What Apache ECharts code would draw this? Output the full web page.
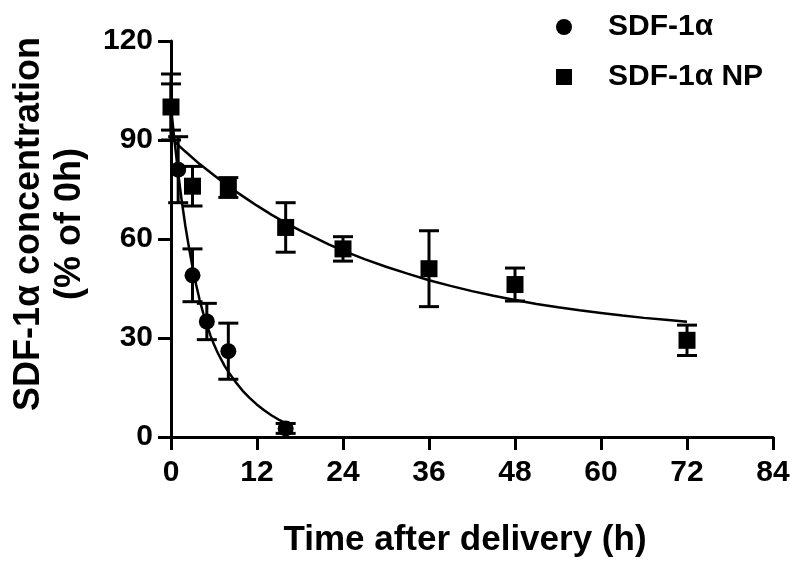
<!DOCTYPE html>
<html>
<head>
<meta charset="utf-8">
<script src="https://cdn.jsdelivr.net/npm/echarts@6/dist/echarts.min.js"></script>
<style>
html,body{margin:0;padding:0;background:#fff;}
#chart{width:800px;height:574px;}
</style>
</head>
<body>
<div id="chart"></div>
<script>
// ---- data ----
var xTicks = [0, 12, 24, 36, 48, 60, 72, 84];
var yTicks = [0, 30, 60, 90, 120];

var freeTime = [0, 1, 3, 5, 8, 16];
var freeMean = [100, 81, 49, 35, 26, 2.6];
var freeErr  = [10, 10, 8, 5.5, 8.5, 1.5];

var npTime = [0, 3, 8, 16, 24, 36, 48, 72];
var npMean = [100, 76, 75.6, 63.5, 57, 51, 46.2, 29.3];
var npErr  = [7, 6, 3, 7.5, 3.7, 11.5, 5, 4.6];

// fitted curves
var freeFitT = [0, 0.5, 1, 1.5, 2, 2.5, 3, 3.5, 4, 4.5, 5, 5.5, 6, 6.5, 7, 7.5, 8, 9, 10, 11, 12, 13, 14, 15, 16];
var freeFitY = [100, 89.5, 80, 71.5, 64, 57.5, 51.5, 46.2, 41.5, 37.5, 34, 30.8, 28, 25.6, 23.5, 21.5, 19.8, 16.7, 14, 11.8, 9.8, 8.1, 6.6, 5.3, 4.2];

var npFitT = [0, 2, 4, 6, 8, 10, 12, 14, 16, 18, 20, 22, 24, 27, 30, 33, 36, 39, 42, 45, 48, 51, 54, 57, 60, 63, 66, 69, 72];
var npFitY = [90.5, 86.5, 82.7, 79.3, 76, 73, 70.1, 67.4, 64.9, 62.6, 60.5, 58.4, 56.5, 53.9, 51.6, 49.5, 47.5, 45.8, 44.2, 42.8, 41.5, 40.3, 39.3, 38.4, 37.6, 36.8, 36.1, 35.5, 34.9];

var seriesNames = ['SDF-1\u03b1', 'SDF-1\u03b1 NP'];

function zip2(a, b) { return a.map(function (v, i) { return [v, b[i]]; }); }
function zip3(a, b, c) { return a.map(function (v, i) { return [v, b[i], c[i]]; }); }

var FONT = '"Liberation Sans", Arial, Helvetica, sans-serif';

function errRender(params, api) {
  var t = api.value(0), m = api.value(1), e = api.value(2);
  var hi = api.coord([t, m + e]);
  var lo = api.coord([t, m - e]);
  var hw = 10;
  var st = { stroke: '#000', lineWidth: 3 };
  return {
    type: 'group',
    children: [
      { type: 'line', shape: { x1: hi[0], y1: hi[1], x2: lo[0], y2: lo[1] }, style: st },
      { type: 'line', shape: { x1: hi[0] - hw, y1: hi[1], x2: hi[0] + hw, y2: hi[1] }, style: st },
      { type: 'line', shape: { x1: lo[0] - hw, y1: lo[1], x2: lo[0] + hw, y2: lo[1] }, style: st }
    ]
  };
}

var chart = echarts.init(document.getElementById('chart'), null, { renderer: 'canvas' });
chart.setOption({
  animation: false,
  backgroundColor: '#fff',
  grid: { left: 171, right: 27, top: 41, bottom: 137, containLabel: false },
  legend: {
    data: [
      { name: seriesNames[0], icon: 'circle' },
      { name: seriesNames[1], icon: 'rect' }
    ],
    orient: 'vertical',
    left: 551,
    top: 5,
    itemWidth: 16,
    itemHeight: 16,
    itemGap: 16,
    selectedMode: false,
    itemStyle: { opacity: 1 },
    textStyle: { fontFamily: FONT, fontWeight: 'bold', fontSize: 30, color: '#000', lineHeight: 34, padding: [0, 0, 0, 31] }
  },
  xAxis: {
    type: 'value',
    min: xTicks[0],
    max: xTicks[xTicks.length - 1],
    interval: 12,
    name: 'Time after delivery (h)',
    nameLocation: 'middle',
    nameGap: 86,
    nameTextStyle: { fontFamily: FONT, fontWeight: 'bold', fontSize: 35, color: '#000', padding: [0, 14, 0, 0] },
    axisLine: { show: true, onZero: false, lineStyle: { color: '#000', width: 3 } },
    axisTick: { show: true, length: 13, lineStyle: { color: '#000', width: 3 } },
    axisLabel: { fontFamily: FONT, fontWeight: 'bold', fontSize: 30, color: '#000', margin: 21 },
    splitLine: { show: false }
  },
  yAxis: {
    type: 'value',
    min: yTicks[0],
    max: yTicks[yTicks.length - 1],
    interval: 30,
    name: 'SDF-1\u03b1 concentration\n(% of 0h)',
    nameLocation: 'middle',
    nameRotate: 90,
    nameGap: 80,
    nameTextStyle: { fontFamily: FONT, fontWeight: 'bold', fontSize: 36, color: '#000', lineHeight: 41, padding: [0, 0, 0, 30] },
    axisLine: { show: true, onZero: false, lineStyle: { color: '#000', width: 3 } },
    axisTick: { show: true, length: 13, lineStyle: { color: '#000', width: 3 } },
    axisLabel: { fontFamily: FONT, fontWeight: 'bold', fontSize: 30, color: '#000', margin: 18 },
    splitLine: { show: false }
  },
  series: [
    {
      name: 'fit-free', type: 'line', data: zip2(freeFitT, freeFitY),
      smooth: false, showSymbol: false, silent: true,
      lineStyle: { color: '#000', width: 2.5 }, z: 2
    },
    {
      name: 'fit-np', type: 'line', data: zip2(npFitT, npFitY),
      smooth: false, showSymbol: false, silent: true,
      lineStyle: { color: '#000', width: 2.5 }, z: 2
    },
    {
      name: 'err-free', type: 'custom', renderItem: errRender,
      data: zip3(freeTime, freeMean, freeErr), z: 3, silent: true
    },
    {
      name: 'err-np', type: 'custom', renderItem: errRender,
      data: zip3(npTime, npMean, npErr), z: 3, silent: true
    },
    {
      name: seriesNames[0], type: 'scatter', symbol: 'circle', symbolSize: 16,
      data: zip2(freeTime, freeMean), itemStyle: { color: '#000', opacity: 1 }, z: 4
    },
    {
      name: seriesNames[1], type: 'scatter', symbol: 'rect', symbolSize: 17,
      data: zip2(npTime, npMean), itemStyle: { color: '#000', opacity: 1 }, z: 5
    }
  ]
});
</script>
</body>
</html>
